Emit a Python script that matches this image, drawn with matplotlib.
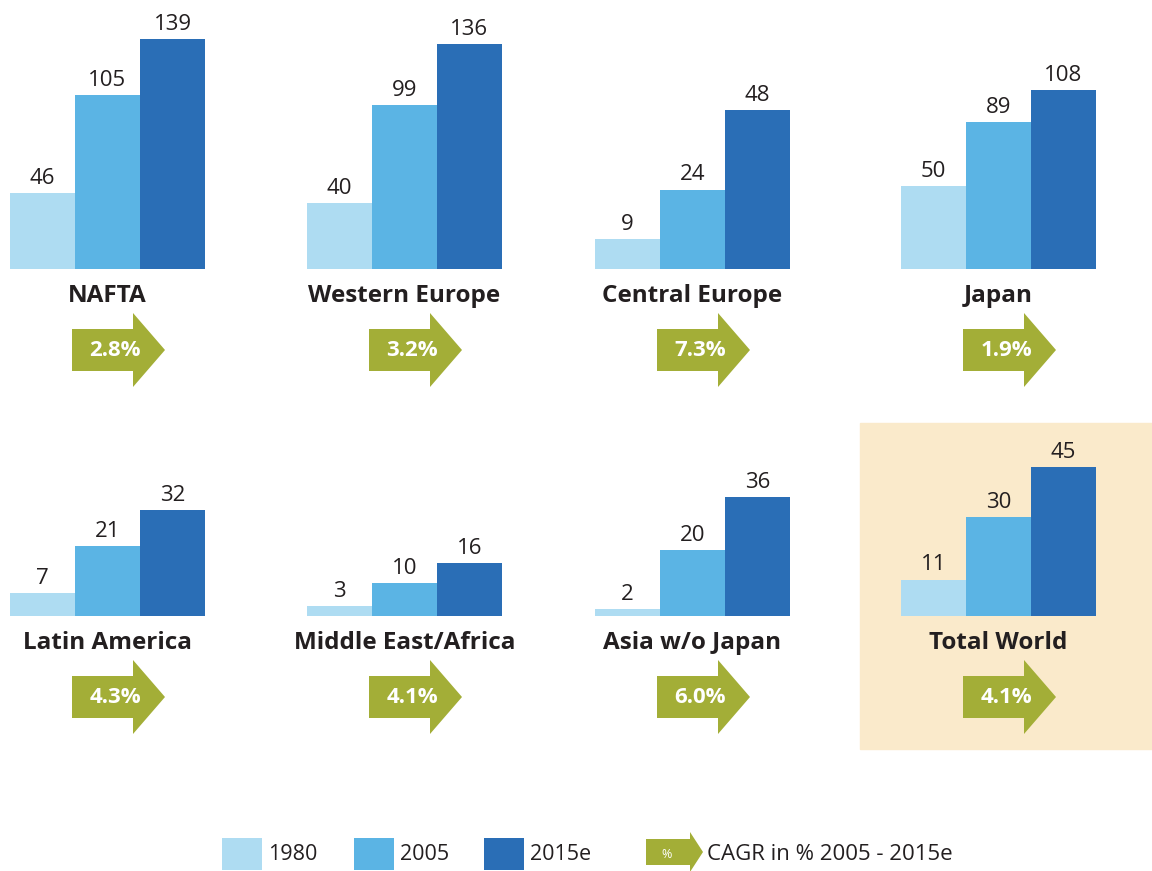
import matplotlib.pyplot as plt
from matplotlib.patches import Polygon, Rectangle

plt.rcParams["font.family"] = ["Open Sans", "DejaVu Sans"]

REGIONS = ["NAFTA", "Western Europe", "Central Europe", "Japan",
           "Latin America", "Middle East/Africa", "Asia w/o Japan", "Total World"]
V1980 = [46, 40, 9, 50, 7, 3, 2, 11]
V2005 = [105, 99, 24, 89, 21, 10, 20, 30]
V2015 = [139, 136, 48, 108, 32, 16, 36, 45]
CAGR = ["2.8%", "3.2%", "7.3%", "1.9%", "4.3%", "4.1%", "6.0%", "4.1%"]
SERIES = ["1980", "2005", "2015e"]

# pixels per unit in each panel (the original uses two scales)
PX_PER_UNIT = [1.655, 1.655, 3.31, 1.655, 3.31, 3.31, 3.31, 3.31]

COLORS = ["#aedcf2", "#5bb4e4", "#2a6eb6"]
GREEN = "#a3ae37"
HILITE = "#faeacb"
TEXT = "#231f20"

W, H = 1152, 871
PANEL_LEFT = [10, 307, 595, 901]
BASELINE = [269, 616]
PANEL_W = 195
AX_H = 250

fig = plt.figure(figsize=(W / 100, H / 100), dpi=100)
bg = fig.add_axes([0, 0, 1, 1])
bg.set_xlim(0, W)
bg.set_ylim(H, 0)
bg.axis("off")

# highlight box behind Total World
bg.add_patch(Rectangle((860, 423), 292, 326, color=HILITE, zorder=0))


def arrow(ax, x0, yc, body_w, head_w, body_h, head_h, **kw):
    pts = [(x0, yc - body_h / 2), (x0 + body_w, yc - body_h / 2),
           (x0 + body_w, yc - head_h / 2), (x0 + body_w + head_w, yc),
           (x0 + body_w, yc + head_h / 2), (x0 + body_w, yc + body_h / 2),
           (x0, yc + body_h / 2)]
    ax.add_patch(Polygon(pts, closed=True, **kw))


for i, region in enumerate(REGIONS):
    row, col = divmod(i, 4)
    left = PANEL_LEFT[col]
    base = BASELINE[row]
    ax = fig.add_axes([left / W, 1 - base / H, PANEL_W / W, AX_H / H])
    ax.set_xlim(-0.5, 2.5)
    ax.set_ylim(0, AX_H / PX_PER_UNIT[i])
    ax.axis("off")
    vals = [V1980[i], V2005[i], V2015[i]]
    bars = ax.bar(range(3), vals, width=1.0, color=COLORS, linewidth=0)
    for b, v in zip(bars, vals):
        ax.annotate(str(v), (b.get_x() + b.get_width() / 2, v),
                    xytext=(0, 3), textcoords="offset points",
                    ha="center", va="bottom", fontsize=16, color=TEXT)

    cx = left + PANEL_W / 2
    bg.text(cx, base + 27, region, ha="center", va="center",
            fontsize=17.5, fontweight="bold", color=TEXT)

    yc = base + 81
    arrow(bg, left + 62, yc, 61, 32, 42, 74, color=GREEN, lw=0)
    bg.text(left + 105, yc, CAGR[i], ha="center", va="center",
            fontsize=16, fontweight="bold", color="white")

# legend
leg_x = [222, 354, 484]
for x, c, s in zip(leg_x, COLORS, SERIES):
    bg.add_patch(Rectangle((x, 838), 40, 32, color=c, lw=0))
    bg.text(x + 46, 854, s, ha="left", va="center", fontsize=15.5, color=TEXT)
arrow(bg, 646, 852, 44, 13, 26, 40, color=GREEN, lw=0)
bg.text(667, 854, "%", ha="center", va="center", fontsize=9,
        color="white")
bg.text(707, 854, "CAGR in % 2005 - 2015e", ha="left", va="center",
        fontsize=16, color=TEXT)

fig.savefig("out.png", dpi=100)
